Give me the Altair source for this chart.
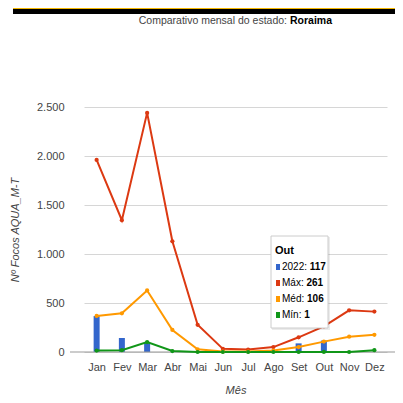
import altair as alt
import pandas as pd

months = ["Jan", "Fev", "Mar", "Abr", "Mai", "Jun", "Jul", "Ago", "Set", "Out", "Nov", "Dez"]
y2022 = [367, 143, 97, 0, 0, 0, 0, 0, 88, 117, 0, 0]
max_v = [1960, 1345, 2440, 1130, 278, 32, 25, 50, 150, 261, 425, 412]
med_v = [368, 395, 628, 225, 27, 5, 5, 15, 50, 106, 156, 175]
min_v = [15, 18, 102, 10, 0, 0, 0, 0, 0, 1, 0, 18]

series_names = ["Máx", "Méd", "Mín"]
series_colors = ["#dc3912", "#ff9900", "#109618"]
bar_color = "#3366cc"
tip_month = "Out"

FONT = "Liberation Sans, Arial"

bars_df = pd.DataFrame({"Mês": months, "v": y2022})
bars_df = bars_df[bars_df["v"] > 0]

rows = []
for name, vals in zip(series_names, [max_v, med_v, min_v]):
    for m, v in zip(months, vals):
        rows.append({"Mês": m, "serie": name, "v": v})
lines_df = pd.DataFrame(rows)

W, H = 325, 245

xscale = alt.Scale(type="point", domain=months, range=[14, 317])
yscale = alt.Scale(domain=[0, 2500], nice=False)

x_enc = alt.X("Mês:N", scale=xscale, sort=months,
              axis=alt.Axis(title="Mês", labelAngle=0, ticks=False, domain=False, grid=False,
                            labelFont=FONT, labelFontSize=11, labelColor="#444", labelPadding=9,
                            titleFont=FONT, titleFontSize=11, titleFontStyle="italic",
                            titleFontWeight="normal", titleColor="#444",
                            titleY=32, titleBaseline="top"))
y_enc = alt.Y("v:Q", scale=yscale,
              axis=alt.Axis(title="Nº Focos AQUA_M-T", values=list(range(0, 2501, 250)),
                            labelExpr="datum.value % 500 === 0 ? replace(format(datum.value, ','), ',', '.') : ''",
                            ticks=False, domain=False,
                            gridColor={"condition": {"test": "datum.value % 500 === 0", "value": "#d6d6d6"},
                                       "value": "#ededed"},
                            labelFont=FONT, labelFontSize=11, labelColor="#444", labelPadding=6,
                            titleFont=FONT, titleFontSize=11, titleFontStyle="italic",
                            titleFontWeight="normal", titleColor="#444",
                            titleX=-55, titleY=H / 2, titleAngle=-90, titleBaseline="middle"))

bars = alt.Chart(bars_df).mark_bar(size=6, color=bar_color).encode(x=x_enc, y=y_enc)

baseline = alt.Chart(pd.DataFrame({"v": [0]})).mark_rule(color="#999", strokeWidth=1).encode(
    y=alt.Y("v:Q", scale=yscale), x=alt.value(0), x2=alt.value(W))

lines = alt.Chart(lines_df).mark_line(
    strokeWidth=2,
    point=alt.OverlayMarkDef(size=18, filled=True)
).encode(
    x=alt.X("Mês:N", scale=xscale, sort=months),
    y=alt.Y("v:Q", scale=yscale),
    color=alt.Color("serie:N", scale=alt.Scale(domain=series_names, range=series_colors), legend=None),
    detail="serie:N",
)

one = pd.DataFrame({"a": [0]})

# title
t1 = alt.Chart(one).mark_text(
    text="Comparativo mensal do estado:", font=FONT, fontSize=10.5, color="#444",
    align="right", baseline="middle").encode(x=alt.value(217), y=alt.value(-86))
t2 = alt.Chart(one).mark_text(
    text="Roraima", font=FONT, fontSize=10.5, color="#000", fontWeight="bold",
    align="left", baseline="middle").encode(x=alt.value(220), y=alt.value(-86))

# top decorative bar
deco_y = alt.Chart(one).mark_rect(color="#f5b800").encode(
    x=alt.value(-57), x2=alt.value(W + 10), y=alt.value(-99), y2=alt.value(-98))
deco_b = alt.Chart(one).mark_rect(color="#000").encode(
    x=alt.value(-57), x2=alt.value(W + 10), y=alt.value(-98), y2=alt.value(-93))

# tooltip box
idx = months.index(tip_month)
tip_vals = [y2022[idx], max_v[idx], med_v[idx], min_v[idx]]
tip_labels = ["2022", "Máx", "Méd", "Mín"]
tip_colors = [bar_color] + series_colors

# approximate Arial/Liberation glyph widths (em) to place the bold value after the label
cw = {"0": .556, "1": .556, "2": .556, "M": .833, "á": .556, "é": .556, "í": .278,
      "x": .5, "d": .556, "n": .556, ":": .278, " ": .278}
FS = 10

bx0, by0, bw, bh = 201, 129, 57, 92
layers = []
layers.append(alt.Chart(one).mark_rect(color="#000", opacity=0.08).encode(
    x=alt.value(bx0 + 1), x2=alt.value(bx0 + bw + 2), y=alt.value(by0 + 1), y2=alt.value(by0 + bh + 2)))
layers.append(alt.Chart(one).mark_rect(fill="#fff", stroke="#cccccc", strokeWidth=1).encode(
    x=alt.value(bx0), x2=alt.value(bx0 + bw), y=alt.value(by0), y2=alt.value(by0 + bh)))
layers.append(alt.Chart(one).mark_text(
    text=tip_month, font=FONT, fontSize=FS + 1, fontWeight="bold", color="#000",
    align="left", baseline="middle").encode(x=alt.value(bx0 + 4), y=alt.value(by0 + 15)))
for i, (lab, val, col) in enumerate(zip(tip_labels, tip_vals, tip_colors)):
    yy = by0 + 31 + i * 16
    tx = bx0 + 11
    lw = sum(cw.get(c, .556) for c in f"{lab}: ") * FS
    layers.append(alt.Chart(one).mark_rect(color=col).encode(
        x=alt.value(bx0 + 5), x2=alt.value(bx0 + 9), y=alt.value(yy - 3), y2=alt.value(yy + 3)))
    layers.append(alt.Chart(one).mark_text(
        text=f"{lab}:", font=FONT, fontSize=FS, color="#000",
        align="left", baseline="middle").encode(x=alt.value(tx), y=alt.value(yy)))
    layers.append(alt.Chart(one).mark_text(
        text=f"{val}", font=FONT, fontSize=FS, fontWeight="bold", color="#000",
        align="left", baseline="middle").encode(x=alt.value(tx + lw), y=alt.value(yy)))

chart = alt.layer(bars, baseline, lines, t1, t2, deco_y, deco_b, *layers).properties(
    width=W, height=H,
    autosize=alt.AutoSizeParams(type="none"),
    padding={"left": 62, "top": 99, "right": 0, "bottom": 43},
).configure_view(stroke=None)

chart.save("out.html", embed_options={"renderer": "svg", "actions": False})
